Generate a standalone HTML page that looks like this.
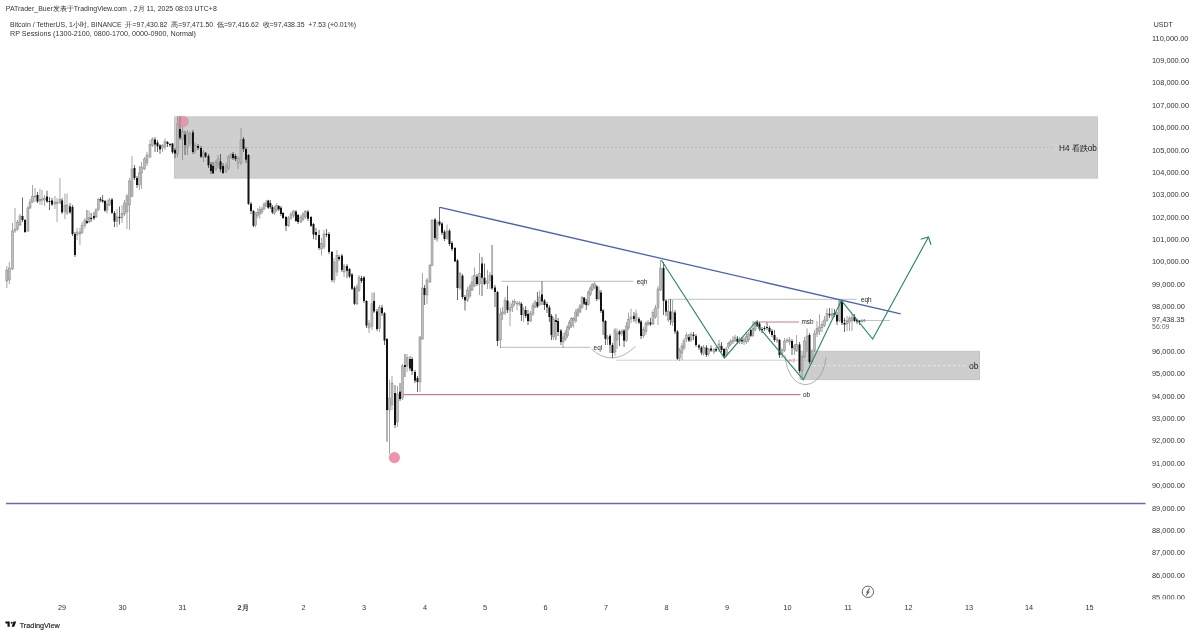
<!DOCTYPE html><html><head><meta charset="utf-8"><style>
html,body{margin:0;padding:0;background:#fff;width:1200px;height:635px;overflow:hidden}
svg{position:absolute;left:0;top:0;font-family:"Liberation Sans",sans-serif;will-change:transform}
</style></head><body>
<svg width="1200" height="635" viewBox="0 0 1200 635">
<rect x="174.5" y="116.9" width="923" height="61.2" fill="#cfcfcf" stroke="#c6c6c6" stroke-width="1"/>
<rect x="800" y="351.3" width="179.5" height="28.3" fill="#cdcdcd" stroke="#c4c4c4" stroke-width="1"/>
<line x1="179" y1="147.3" x2="1054" y2="147.3" stroke="#ababab" stroke-width="0.8" stroke-dasharray="1.6,2.4"/>
<line x1="813" y1="365.7" x2="966" y2="365.7" stroke="#f2f2f2" stroke-width="0.8" stroke-dasharray="2.5,2.5"/>
<line x1="6" y1="503.6" x2="1145.5" y2="503.6" stroke="#6a6aa6" stroke-width="1.5"/>
<line x1="402" y1="394.7" x2="800.5" y2="394.7" stroke="#c67d90" stroke-width="1.2"/>
<line x1="755.7" y1="322" x2="799" y2="322" stroke="#c67d90" stroke-width="1.2"/>
<line x1="501.5" y1="281.3" x2="633.2" y2="281.3" stroke="#9a9aa8" stroke-width="0.7"/>
<line x1="500" y1="347.3" x2="590.6" y2="347.3" stroke="#8fa0c8" stroke-width="0.7"/>
<line x1="616" y1="360.2" x2="810" y2="360.2" stroke="#b4b4bc" stroke-width="0.6"/>
<line x1="668.7" y1="299.3" x2="856.7" y2="299.3" stroke="#b0b0b6" stroke-width="0.8"/>
<line x1="839.7" y1="320.5" x2="889.8" y2="320.5" stroke="#9a9a9a" stroke-width="0.6"/>
<path d="M591.6,349.3 Q613,368 635.6,346.3" fill="none" stroke="#9090a0" stroke-width="0.7"/>
<path d="M785,355 C788,394 822,394 826,357" fill="none" stroke="#909098" stroke-width="0.7"/>
<line x1="6.80" y1="266.0" x2="6.80" y2="288.0" stroke="#808080" stroke-width="0.7"/>
<rect x="5.80" y="270.0" width="2.0" height="11.0" fill="#bcbcbc" stroke="#858585" stroke-width="0.5"/>
<line x1="9.30" y1="262.0" x2="9.30" y2="284.0" stroke="#808080" stroke-width="0.7"/>
<rect x="8.30" y="268.0" width="2.0" height="12.0" fill="#bcbcbc" stroke="#858585" stroke-width="0.5"/>
<line x1="12.50" y1="223.0" x2="12.50" y2="270.0" stroke="#808080" stroke-width="0.7"/>
<rect x="11.50" y="231.0" width="2.0" height="38.0" fill="#bcbcbc" stroke="#858585" stroke-width="0.5"/>
<line x1="15.00" y1="208.0" x2="15.00" y2="233.0" stroke="#808080" stroke-width="0.7"/>
<rect x="14.00" y="229.0" width="2.0" height="2.0" fill="#bcbcbc" stroke="#858585" stroke-width="0.5"/>
<line x1="17.50" y1="220.0" x2="17.50" y2="231.0" stroke="#808080" stroke-width="0.7"/>
<rect x="16.50" y="222.0" width="2.0" height="7.0" fill="#bcbcbc" stroke="#858585" stroke-width="0.5"/>
<line x1="20.00" y1="214.0" x2="20.00" y2="226.0" stroke="#808080" stroke-width="0.7"/>
<rect x="19.00" y="216.0" width="2.0" height="9.0" fill="#bcbcbc" stroke="#858585" stroke-width="0.5"/>
<line x1="22.50" y1="197.5" x2="22.50" y2="222.0" stroke="#2a2a2a" stroke-width="0.7"/>
<rect x="21.50" y="216.0" width="2.0" height="4.0" fill="#111"/>
<line x1="25.00" y1="219.0" x2="25.00" y2="233.0" stroke="#2a2a2a" stroke-width="0.7"/>
<rect x="24.00" y="220.0" width="2.0" height="12.0" fill="#111"/>
<line x1="27.95" y1="206.0" x2="27.95" y2="232.0" stroke="#808080" stroke-width="0.7"/>
<rect x="26.95" y="208.0" width="2.0" height="23.0" fill="#bcbcbc" stroke="#858585" stroke-width="0.5"/>
<line x1="30.05" y1="198.5" x2="30.05" y2="209.0" stroke="#808080" stroke-width="0.7"/>
<rect x="29.05" y="202.0" width="2.0" height="6.0" fill="#bcbcbc" stroke="#858585" stroke-width="0.5"/>
<line x1="32.50" y1="185.0" x2="32.50" y2="203.0" stroke="#808080" stroke-width="0.7"/>
<rect x="31.50" y="196.5" width="2.0" height="5.5" fill="#bcbcbc" stroke="#858585" stroke-width="0.5"/>
<line x1="35.00" y1="188.0" x2="35.00" y2="202.0" stroke="#808080" stroke-width="0.7"/>
<rect x="34.00" y="196.0" width="2.0" height="1.0" fill="#bcbcbc" stroke="#858585" stroke-width="0.5"/>
<line x1="37.50" y1="192.0" x2="37.50" y2="203.0" stroke="#2a2a2a" stroke-width="0.7"/>
<rect x="36.50" y="195.0" width="2.0" height="6.5" fill="#111"/>
<line x1="39.95" y1="188.7" x2="39.95" y2="205.0" stroke="#808080" stroke-width="0.7"/>
<rect x="38.95" y="199.5" width="2.0" height="1.5" fill="#bcbcbc" stroke="#858585" stroke-width="0.5"/>
<line x1="42.05" y1="190.0" x2="42.05" y2="205.0" stroke="#808080" stroke-width="0.7"/>
<rect x="41.05" y="199.0" width="2.0" height="1.0" fill="#bcbcbc" stroke="#858585" stroke-width="0.5"/>
<line x1="44.50" y1="195.0" x2="44.50" y2="206.0" stroke="#808080" stroke-width="0.7"/>
<rect x="43.50" y="198.0" width="2.0" height="2.0" fill="#bcbcbc" stroke="#858585" stroke-width="0.5"/>
<line x1="47.00" y1="190.7" x2="47.00" y2="203.0" stroke="#2a2a2a" stroke-width="0.7"/>
<rect x="46.00" y="196.5" width="2.0" height="5.0" fill="#111"/>
<line x1="49.50" y1="197.0" x2="49.50" y2="210.0" stroke="#2a2a2a" stroke-width="0.7"/>
<rect x="48.50" y="201.0" width="2.0" height="1.0" fill="#111"/>
<line x1="52.00" y1="198.0" x2="52.00" y2="206.0" stroke="#2a2a2a" stroke-width="0.7"/>
<rect x="51.00" y="200.5" width="2.0" height="4.0" fill="#111"/>
<line x1="54.95" y1="196.0" x2="54.95" y2="209.0" stroke="#808080" stroke-width="0.7"/>
<rect x="53.95" y="202.0" width="2.0" height="2.0" fill="#bcbcbc" stroke="#858585" stroke-width="0.5"/>
<line x1="57.05" y1="198.0" x2="57.05" y2="222.0" stroke="#808080" stroke-width="0.7"/>
<rect x="56.05" y="202.5" width="2.0" height="1.0" fill="#bcbcbc" stroke="#858585" stroke-width="0.5"/>
<line x1="59.95" y1="178.0" x2="59.95" y2="204.0" stroke="#808080" stroke-width="0.7"/>
<rect x="58.95" y="199.5" width="2.0" height="3.5" fill="#bcbcbc" stroke="#858585" stroke-width="0.5"/>
<line x1="62.05" y1="198.0" x2="62.05" y2="214.0" stroke="#2a2a2a" stroke-width="0.7"/>
<rect x="61.05" y="200.5" width="2.0" height="11.8" fill="#111"/>
<line x1="64.95" y1="193.6" x2="64.95" y2="219.0" stroke="#808080" stroke-width="0.7"/>
<rect x="63.95" y="205.4" width="2.0" height="5.9" fill="#bcbcbc" stroke="#858585" stroke-width="0.5"/>
<line x1="67.05" y1="193.6" x2="67.05" y2="215.0" stroke="#808080" stroke-width="0.7"/>
<rect x="66.05" y="205.0" width="2.0" height="8.0" fill="#bcbcbc" stroke="#858585" stroke-width="0.5"/>
<line x1="70.00" y1="203.0" x2="70.00" y2="214.0" stroke="#2a2a2a" stroke-width="0.7"/>
<rect x="69.00" y="206.4" width="2.0" height="5.9" fill="#111"/>
<line x1="72.50" y1="205.0" x2="72.50" y2="236.0" stroke="#2a2a2a" stroke-width="0.7"/>
<rect x="71.50" y="207.0" width="2.0" height="27.0" fill="#111"/>
<line x1="74.95" y1="232.0" x2="74.95" y2="257.0" stroke="#2a2a2a" stroke-width="0.7"/>
<rect x="73.95" y="234.0" width="2.0" height="21.0" fill="#111"/>
<line x1="77.05" y1="228.0" x2="77.05" y2="240.0" stroke="#808080" stroke-width="0.7"/>
<rect x="76.05" y="232.0" width="2.0" height="3.0" fill="#bcbcbc" stroke="#858585" stroke-width="0.5"/>
<line x1="79.95" y1="228.0" x2="79.95" y2="245.0" stroke="#808080" stroke-width="0.7"/>
<rect x="78.95" y="232.0" width="2.0" height="2.0" fill="#bcbcbc" stroke="#858585" stroke-width="0.5"/>
<line x1="82.05" y1="222.0" x2="82.05" y2="234.0" stroke="#808080" stroke-width="0.7"/>
<rect x="81.05" y="225.5" width="2.0" height="7.0" fill="#bcbcbc" stroke="#858585" stroke-width="0.5"/>
<line x1="84.85" y1="218.0" x2="84.85" y2="228.6" stroke="#808080" stroke-width="0.7"/>
<rect x="83.85" y="220.7" width="2.0" height="4.8" fill="#bcbcbc" stroke="#858585" stroke-width="0.5"/>
<line x1="86.95" y1="210.0" x2="86.95" y2="224.0" stroke="#2a2a2a" stroke-width="0.7"/>
<rect x="85.95" y="221.0" width="2.0" height="2.0" fill="#111"/>
<line x1="89.05" y1="210.5" x2="89.05" y2="223.0" stroke="#808080" stroke-width="0.7"/>
<rect x="88.05" y="217.5" width="2.0" height="4.5" fill="#bcbcbc" stroke="#858585" stroke-width="0.5"/>
<line x1="91.15" y1="213.0" x2="91.15" y2="222.0" stroke="#2a2a2a" stroke-width="0.7"/>
<rect x="90.15" y="218.0" width="2.0" height="1.0" fill="#111"/>
<line x1="93.95" y1="212.0" x2="93.95" y2="220.0" stroke="#2a2a2a" stroke-width="0.7"/>
<rect x="92.95" y="216.0" width="2.0" height="2.3" fill="#111"/>
<line x1="96.05" y1="208.0" x2="96.05" y2="218.0" stroke="#808080" stroke-width="0.7"/>
<rect x="95.05" y="210.0" width="2.0" height="7.0" fill="#bcbcbc" stroke="#858585" stroke-width="0.5"/>
<line x1="98.40" y1="198.0" x2="98.40" y2="211.0" stroke="#808080" stroke-width="0.7"/>
<rect x="97.40" y="199.5" width="2.0" height="10.2" fill="#bcbcbc" stroke="#858585" stroke-width="0.5"/>
<line x1="100.50" y1="197.0" x2="100.50" y2="202.0" stroke="#2a2a2a" stroke-width="0.7"/>
<rect x="99.50" y="199.2" width="2.0" height="1.0" fill="#111"/>
<line x1="102.60" y1="195.0" x2="102.60" y2="203.0" stroke="#2a2a2a" stroke-width="0.7"/>
<rect x="101.60" y="200.0" width="2.0" height="1.5" fill="#111"/>
<line x1="104.95" y1="200.0" x2="104.95" y2="212.0" stroke="#2a2a2a" stroke-width="0.7"/>
<rect x="103.95" y="201.0" width="2.0" height="9.5" fill="#111"/>
<line x1="107.05" y1="199.5" x2="107.05" y2="213.6" stroke="#808080" stroke-width="0.7"/>
<rect x="106.05" y="204.0" width="2.0" height="6.0" fill="#bcbcbc" stroke="#858585" stroke-width="0.5"/>
<line x1="109.50" y1="198.0" x2="109.50" y2="206.0" stroke="#808080" stroke-width="0.7"/>
<rect x="108.50" y="200.0" width="2.0" height="5.0" fill="#bcbcbc" stroke="#858585" stroke-width="0.5"/>
<line x1="112.00" y1="198.0" x2="112.00" y2="214.0" stroke="#2a2a2a" stroke-width="0.7"/>
<rect x="111.00" y="199.5" width="2.0" height="13.3" fill="#111"/>
<line x1="114.50" y1="211.0" x2="114.50" y2="227.0" stroke="#2a2a2a" stroke-width="0.7"/>
<rect x="113.50" y="213.0" width="2.0" height="8.5" fill="#111"/>
<line x1="117.00" y1="209.0" x2="117.00" y2="227.0" stroke="#808080" stroke-width="0.7"/>
<rect x="116.00" y="216.8" width="2.0" height="4.7" fill="#bcbcbc" stroke="#858585" stroke-width="0.5"/>
<line x1="119.50" y1="206.5" x2="119.50" y2="224.6" stroke="#2a2a2a" stroke-width="0.7"/>
<rect x="118.50" y="217.0" width="2.0" height="1.0" fill="#111"/>
<line x1="122.00" y1="205.0" x2="122.00" y2="223.0" stroke="#808080" stroke-width="0.7"/>
<rect x="121.00" y="213.6" width="2.0" height="4.4" fill="#bcbcbc" stroke="#858585" stroke-width="0.5"/>
<line x1="124.50" y1="200.0" x2="124.50" y2="216.0" stroke="#808080" stroke-width="0.7"/>
<rect x="123.50" y="203.0" width="2.0" height="11.0" fill="#bcbcbc" stroke="#858585" stroke-width="0.5"/>
<line x1="127.00" y1="194.0" x2="127.00" y2="229.0" stroke="#808080" stroke-width="0.7"/>
<rect x="126.00" y="196.0" width="2.0" height="16.0" fill="#bcbcbc" stroke="#858585" stroke-width="0.5"/>
<line x1="129.50" y1="178.0" x2="129.50" y2="230.0" stroke="#808080" stroke-width="0.7"/>
<rect x="128.50" y="181.0" width="2.0" height="24.0" fill="#bcbcbc" stroke="#858585" stroke-width="0.5"/>
<line x1="132.00" y1="156.0" x2="132.00" y2="197.0" stroke="#808080" stroke-width="0.7"/>
<rect x="131.00" y="169.0" width="2.0" height="27.6" fill="#bcbcbc" stroke="#858585" stroke-width="0.5"/>
<line x1="134.50" y1="165.0" x2="134.50" y2="180.0" stroke="#2a2a2a" stroke-width="0.7"/>
<rect x="133.50" y="168.0" width="2.0" height="10.0" fill="#111"/>
<line x1="137.00" y1="176.0" x2="137.00" y2="188.0" stroke="#2a2a2a" stroke-width="0.7"/>
<rect x="136.00" y="178.0" width="2.0" height="7.0" fill="#111"/>
<line x1="139.45" y1="166.0" x2="139.45" y2="190.0" stroke="#808080" stroke-width="0.7"/>
<rect x="138.45" y="173.0" width="2.0" height="12.0" fill="#bcbcbc" stroke="#858585" stroke-width="0.5"/>
<line x1="141.55" y1="162.0" x2="141.55" y2="189.0" stroke="#808080" stroke-width="0.7"/>
<rect x="140.55" y="167.0" width="2.0" height="6.0" fill="#bcbcbc" stroke="#858585" stroke-width="0.5"/>
<line x1="144.50" y1="157.0" x2="144.50" y2="170.0" stroke="#808080" stroke-width="0.7"/>
<rect x="143.50" y="159.0" width="2.0" height="10.0" fill="#bcbcbc" stroke="#858585" stroke-width="0.5"/>
<line x1="147.00" y1="152.0" x2="147.00" y2="166.0" stroke="#808080" stroke-width="0.7"/>
<rect x="146.00" y="155.0" width="2.0" height="8.0" fill="#bcbcbc" stroke="#858585" stroke-width="0.5"/>
<line x1="150.00" y1="140.0" x2="150.00" y2="158.0" stroke="#808080" stroke-width="0.7"/>
<rect x="149.00" y="144.5" width="2.0" height="12.5" fill="#bcbcbc" stroke="#858585" stroke-width="0.5"/>
<line x1="152.50" y1="137.5" x2="152.50" y2="147.0" stroke="#808080" stroke-width="0.7"/>
<rect x="151.50" y="139.0" width="2.0" height="6.5" fill="#bcbcbc" stroke="#858585" stroke-width="0.5"/>
<line x1="155.00" y1="137.0" x2="155.00" y2="152.0" stroke="#2a2a2a" stroke-width="0.7"/>
<rect x="154.00" y="139.5" width="2.0" height="5.0" fill="#111"/>
<line x1="157.50" y1="140.0" x2="157.50" y2="152.0" stroke="#2a2a2a" stroke-width="0.7"/>
<rect x="156.50" y="142.5" width="2.0" height="3.9" fill="#111"/>
<line x1="160.00" y1="144.0" x2="160.00" y2="154.0" stroke="#2a2a2a" stroke-width="0.7"/>
<rect x="159.00" y="145.5" width="2.0" height="3.9" fill="#111"/>
<line x1="162.50" y1="144.0" x2="162.50" y2="152.0" stroke="#808080" stroke-width="0.7"/>
<rect x="161.50" y="145.5" width="2.0" height="2.5" fill="#bcbcbc" stroke="#858585" stroke-width="0.5"/>
<line x1="165.00" y1="138.5" x2="165.00" y2="150.0" stroke="#808080" stroke-width="0.7"/>
<rect x="164.00" y="141.5" width="2.0" height="5.5" fill="#bcbcbc" stroke="#858585" stroke-width="0.5"/>
<line x1="167.50" y1="141.0" x2="167.50" y2="147.0" stroke="#2a2a2a" stroke-width="0.7"/>
<rect x="166.50" y="142.0" width="2.0" height="2.0" fill="#111"/>
<line x1="170.00" y1="143.0" x2="170.00" y2="147.0" stroke="#2a2a2a" stroke-width="0.7"/>
<rect x="169.00" y="144.0" width="2.0" height="1.0" fill="#111"/>
<line x1="172.50" y1="143.0" x2="172.50" y2="154.0" stroke="#2a2a2a" stroke-width="0.7"/>
<rect x="171.50" y="143.5" width="2.0" height="8.8" fill="#111"/>
<line x1="175.00" y1="148.0" x2="175.00" y2="158.0" stroke="#2a2a2a" stroke-width="0.7"/>
<rect x="174.00" y="150.0" width="2.0" height="3.5" fill="#111"/>
<line x1="177.50" y1="116.0" x2="177.50" y2="157.0" stroke="#808080" stroke-width="0.7"/>
<rect x="176.50" y="124.0" width="2.0" height="29.5" fill="#bcbcbc" stroke="#858585" stroke-width="0.5"/>
<line x1="180.00" y1="116.0" x2="180.00" y2="140.0" stroke="#2a2a2a" stroke-width="0.7"/>
<rect x="179.00" y="129.0" width="2.0" height="8.8" fill="#111"/>
<line x1="182.50" y1="126.0" x2="182.50" y2="160.0" stroke="#808080" stroke-width="0.7"/>
<rect x="181.50" y="131.5" width="2.0" height="7.5" fill="#bcbcbc" stroke="#858585" stroke-width="0.5"/>
<line x1="185.00" y1="131.0" x2="185.00" y2="155.0" stroke="#2a2a2a" stroke-width="0.7"/>
<rect x="184.00" y="134.6" width="2.0" height="10.4" fill="#111"/>
<line x1="187.50" y1="130.0" x2="187.50" y2="155.0" stroke="#808080" stroke-width="0.7"/>
<rect x="186.50" y="133.0" width="2.0" height="14.0" fill="#bcbcbc" stroke="#858585" stroke-width="0.5"/>
<line x1="190.00" y1="131.5" x2="190.00" y2="146.0" stroke="#808080" stroke-width="0.7"/>
<rect x="189.00" y="134.0" width="2.0" height="9.0" fill="#bcbcbc" stroke="#858585" stroke-width="0.5"/>
<line x1="192.95" y1="130.0" x2="192.95" y2="154.0" stroke="#2a2a2a" stroke-width="0.7"/>
<rect x="191.95" y="132.3" width="2.0" height="19.7" fill="#111"/>
<line x1="195.05" y1="142.5" x2="195.05" y2="153.5" stroke="#808080" stroke-width="0.7"/>
<rect x="194.05" y="145.7" width="2.0" height="4.3" fill="#bcbcbc" stroke="#858585" stroke-width="0.5"/>
<line x1="198.00" y1="144.0" x2="198.00" y2="150.0" stroke="#2a2a2a" stroke-width="0.7"/>
<rect x="197.00" y="146.0" width="2.0" height="2.0" fill="#111"/>
<line x1="201.00" y1="146.0" x2="201.00" y2="158.0" stroke="#2a2a2a" stroke-width="0.7"/>
<rect x="200.00" y="148.0" width="2.0" height="8.7" fill="#111"/>
<line x1="203.45" y1="150.0" x2="203.45" y2="162.0" stroke="#808080" stroke-width="0.7"/>
<rect x="202.45" y="152.0" width="2.0" height="5.0" fill="#bcbcbc" stroke="#858585" stroke-width="0.5"/>
<line x1="205.55" y1="152.0" x2="205.55" y2="158.0" stroke="#2a2a2a" stroke-width="0.7"/>
<rect x="204.55" y="152.8" width="2.0" height="3.9" fill="#111"/>
<line x1="208.50" y1="154.0" x2="208.50" y2="168.0" stroke="#2a2a2a" stroke-width="0.7"/>
<rect x="207.50" y="156.0" width="2.0" height="9.4" fill="#111"/>
<line x1="210.95" y1="162.0" x2="210.95" y2="174.0" stroke="#2a2a2a" stroke-width="0.7"/>
<rect x="209.95" y="164.5" width="2.0" height="6.5" fill="#111"/>
<line x1="213.05" y1="162.0" x2="213.05" y2="174.0" stroke="#2a2a2a" stroke-width="0.7"/>
<rect x="212.05" y="166.0" width="2.0" height="7.2" fill="#111"/>
<line x1="215.95" y1="160.0" x2="215.95" y2="171.0" stroke="#808080" stroke-width="0.7"/>
<rect x="214.95" y="162.2" width="2.0" height="6.8" fill="#bcbcbc" stroke="#858585" stroke-width="0.5"/>
<line x1="218.05" y1="155.0" x2="218.05" y2="168.0" stroke="#808080" stroke-width="0.7"/>
<rect x="217.05" y="159.0" width="2.0" height="5.5" fill="#bcbcbc" stroke="#858585" stroke-width="0.5"/>
<line x1="220.50" y1="154.0" x2="220.50" y2="172.0" stroke="#2a2a2a" stroke-width="0.7"/>
<rect x="219.50" y="161.4" width="2.0" height="7.9" fill="#111"/>
<line x1="223.00" y1="163.0" x2="223.00" y2="174.0" stroke="#2a2a2a" stroke-width="0.7"/>
<rect x="222.00" y="166.0" width="2.0" height="7.0" fill="#111"/>
<line x1="226.00" y1="163.0" x2="226.00" y2="173.0" stroke="#808080" stroke-width="0.7"/>
<rect x="225.00" y="166.0" width="2.0" height="5.6" fill="#bcbcbc" stroke="#858585" stroke-width="0.5"/>
<line x1="228.50" y1="155.0" x2="228.50" y2="170.0" stroke="#808080" stroke-width="0.7"/>
<rect x="227.50" y="157.0" width="2.0" height="11.0" fill="#bcbcbc" stroke="#858585" stroke-width="0.5"/>
<line x1="230.95" y1="153.0" x2="230.95" y2="159.0" stroke="#808080" stroke-width="0.7"/>
<rect x="229.95" y="155.0" width="2.0" height="2.0" fill="#bcbcbc" stroke="#858585" stroke-width="0.5"/>
<line x1="233.05" y1="152.0" x2="233.05" y2="160.0" stroke="#2a2a2a" stroke-width="0.7"/>
<rect x="232.05" y="154.0" width="2.0" height="4.0" fill="#111"/>
<line x1="235.50" y1="154.0" x2="235.50" y2="161.0" stroke="#2a2a2a" stroke-width="0.7"/>
<rect x="234.50" y="156.0" width="2.0" height="3.0" fill="#111"/>
<line x1="238.00" y1="156.0" x2="238.00" y2="169.0" stroke="#808080" stroke-width="0.7"/>
<rect x="237.00" y="158.3" width="2.0" height="4.7" fill="#bcbcbc" stroke="#858585" stroke-width="0.5"/>
<line x1="241.00" y1="128.3" x2="241.00" y2="165.0" stroke="#808080" stroke-width="0.7"/>
<rect x="240.00" y="140.0" width="2.0" height="23.0" fill="#bcbcbc" stroke="#858585" stroke-width="0.5"/>
<line x1="243.50" y1="137.0" x2="243.50" y2="152.0" stroke="#2a2a2a" stroke-width="0.7"/>
<rect x="242.50" y="139.0" width="2.0" height="10.0" fill="#111"/>
<line x1="246.00" y1="147.0" x2="246.00" y2="163.0" stroke="#2a2a2a" stroke-width="0.7"/>
<rect x="245.00" y="149.0" width="2.0" height="10.7" fill="#111"/>
<line x1="248.50" y1="154.0" x2="248.50" y2="205.0" stroke="#2a2a2a" stroke-width="0.7"/>
<rect x="247.50" y="155.0" width="2.0" height="48.8" fill="#111"/>
<line x1="251.00" y1="202.0" x2="251.00" y2="214.0" stroke="#2a2a2a" stroke-width="0.7"/>
<rect x="250.00" y="203.8" width="2.0" height="7.2" fill="#111"/>
<line x1="253.50" y1="210.0" x2="253.50" y2="227.0" stroke="#2a2a2a" stroke-width="0.7"/>
<rect x="252.50" y="211.0" width="2.0" height="14.8" fill="#111"/>
<line x1="255.62" y1="212.0" x2="255.62" y2="227.4" stroke="#808080" stroke-width="0.7"/>
<rect x="254.62" y="214.0" width="2.0" height="11.0" fill="#bcbcbc" stroke="#858585" stroke-width="0.5"/>
<line x1="257.72" y1="208.0" x2="257.72" y2="218.0" stroke="#808080" stroke-width="0.7"/>
<rect x="256.72" y="212.4" width="2.0" height="3.2" fill="#bcbcbc" stroke="#858585" stroke-width="0.5"/>
<line x1="259.82" y1="206.0" x2="259.82" y2="218.7" stroke="#808080" stroke-width="0.7"/>
<rect x="258.82" y="209.3" width="2.0" height="4.7" fill="#bcbcbc" stroke="#858585" stroke-width="0.5"/>
<line x1="261.92" y1="207.0" x2="261.92" y2="214.0" stroke="#808080" stroke-width="0.7"/>
<rect x="260.92" y="209.0" width="2.0" height="3.0" fill="#bcbcbc" stroke="#858585" stroke-width="0.5"/>
<line x1="264.02" y1="202.0" x2="264.02" y2="210.0" stroke="#808080" stroke-width="0.7"/>
<rect x="263.02" y="204.6" width="2.0" height="4.4" fill="#bcbcbc" stroke="#858585" stroke-width="0.5"/>
<line x1="266.12" y1="200.0" x2="266.12" y2="207.0" stroke="#808080" stroke-width="0.7"/>
<rect x="265.12" y="203.0" width="2.0" height="3.0" fill="#bcbcbc" stroke="#858585" stroke-width="0.5"/>
<line x1="268.22" y1="199.8" x2="268.22" y2="209.0" stroke="#2a2a2a" stroke-width="0.7"/>
<rect x="267.22" y="200.6" width="2.0" height="7.1" fill="#111"/>
<line x1="270.32" y1="200.0" x2="270.32" y2="209.0" stroke="#2a2a2a" stroke-width="0.7"/>
<rect x="269.32" y="203.0" width="2.0" height="4.0" fill="#111"/>
<line x1="272.42" y1="205.0" x2="272.42" y2="214.0" stroke="#2a2a2a" stroke-width="0.7"/>
<rect x="271.42" y="207.0" width="2.0" height="5.4" fill="#111"/>
<line x1="274.52" y1="206.0" x2="274.52" y2="215.0" stroke="#808080" stroke-width="0.7"/>
<rect x="273.52" y="208.5" width="2.0" height="4.5" fill="#bcbcbc" stroke="#858585" stroke-width="0.5"/>
<line x1="276.62" y1="203.0" x2="276.62" y2="212.0" stroke="#808080" stroke-width="0.7"/>
<rect x="275.62" y="205.4" width="2.0" height="4.6" fill="#bcbcbc" stroke="#858585" stroke-width="0.5"/>
<line x1="278.72" y1="205.0" x2="278.72" y2="211.0" stroke="#2a2a2a" stroke-width="0.7"/>
<rect x="277.72" y="206.0" width="2.0" height="3.3" fill="#111"/>
<line x1="280.95" y1="206.0" x2="280.95" y2="216.0" stroke="#2a2a2a" stroke-width="0.7"/>
<rect x="279.95" y="207.7" width="2.0" height="6.3" fill="#111"/>
<line x1="283.05" y1="212.0" x2="283.05" y2="219.0" stroke="#2a2a2a" stroke-width="0.7"/>
<rect x="282.05" y="213.0" width="2.0" height="5.0" fill="#111"/>
<line x1="286.00" y1="216.0" x2="286.00" y2="231.0" stroke="#2a2a2a" stroke-width="0.7"/>
<rect x="285.00" y="217.0" width="2.0" height="8.8" fill="#111"/>
<line x1="288.50" y1="216.0" x2="288.50" y2="227.0" stroke="#808080" stroke-width="0.7"/>
<rect x="287.50" y="218.0" width="2.0" height="7.8" fill="#bcbcbc" stroke="#858585" stroke-width="0.5"/>
<line x1="291.00" y1="212.0" x2="291.00" y2="220.0" stroke="#808080" stroke-width="0.7"/>
<rect x="290.00" y="214.0" width="2.0" height="4.0" fill="#bcbcbc" stroke="#858585" stroke-width="0.5"/>
<line x1="293.50" y1="210.0" x2="293.50" y2="218.0" stroke="#808080" stroke-width="0.7"/>
<rect x="292.50" y="211.0" width="2.0" height="4.6" fill="#bcbcbc" stroke="#858585" stroke-width="0.5"/>
<line x1="295.95" y1="210.0" x2="295.95" y2="222.0" stroke="#2a2a2a" stroke-width="0.7"/>
<rect x="294.95" y="211.6" width="2.0" height="9.4" fill="#111"/>
<line x1="298.05" y1="214.0" x2="298.05" y2="224.0" stroke="#2a2a2a" stroke-width="0.7"/>
<rect x="297.05" y="215.0" width="2.0" height="7.0" fill="#111"/>
<line x1="300.95" y1="215.0" x2="300.95" y2="223.0" stroke="#808080" stroke-width="0.7"/>
<rect x="299.95" y="217.0" width="2.0" height="5.0" fill="#bcbcbc" stroke="#858585" stroke-width="0.5"/>
<line x1="303.05" y1="212.0" x2="303.05" y2="221.0" stroke="#808080" stroke-width="0.7"/>
<rect x="302.05" y="214.0" width="2.0" height="5.5" fill="#bcbcbc" stroke="#858585" stroke-width="0.5"/>
<line x1="305.50" y1="210.0" x2="305.50" y2="219.0" stroke="#808080" stroke-width="0.7"/>
<rect x="304.50" y="211.6" width="2.0" height="5.4" fill="#bcbcbc" stroke="#858585" stroke-width="0.5"/>
<line x1="308.00" y1="210.0" x2="308.00" y2="221.0" stroke="#2a2a2a" stroke-width="0.7"/>
<rect x="307.00" y="211.6" width="2.0" height="7.1" fill="#111"/>
<line x1="311.00" y1="216.0" x2="311.00" y2="227.0" stroke="#2a2a2a" stroke-width="0.7"/>
<rect x="310.00" y="217.0" width="2.0" height="8.8" fill="#111"/>
<line x1="313.50" y1="223.0" x2="313.50" y2="239.0" stroke="#2a2a2a" stroke-width="0.7"/>
<rect x="312.50" y="224.0" width="2.0" height="10.5" fill="#111"/>
<line x1="316.00" y1="228.0" x2="316.00" y2="240.0" stroke="#2a2a2a" stroke-width="0.7"/>
<rect x="315.00" y="232.0" width="2.0" height="3.0" fill="#111"/>
<line x1="319.00" y1="230.0" x2="319.00" y2="250.0" stroke="#2a2a2a" stroke-width="0.7"/>
<rect x="318.00" y="235.0" width="2.0" height="13.0" fill="#111"/>
<line x1="321.50" y1="238.0" x2="321.50" y2="255.6" stroke="#808080" stroke-width="0.7"/>
<rect x="320.50" y="243.4" width="2.0" height="5.6" fill="#bcbcbc" stroke="#858585" stroke-width="0.5"/>
<line x1="324.00" y1="230.0" x2="324.00" y2="249.0" stroke="#808080" stroke-width="0.7"/>
<rect x="323.00" y="234.0" width="2.0" height="13.0" fill="#bcbcbc" stroke="#858585" stroke-width="0.5"/>
<line x1="326.50" y1="229.0" x2="326.50" y2="237.0" stroke="#2a2a2a" stroke-width="0.7"/>
<rect x="325.50" y="233.8" width="2.0" height="1.0" fill="#111"/>
<line x1="329.00" y1="232.0" x2="329.00" y2="254.0" stroke="#2a2a2a" stroke-width="0.7"/>
<rect x="328.00" y="234.0" width="2.0" height="18.0" fill="#111"/>
<line x1="331.95" y1="251.0" x2="331.95" y2="282.0" stroke="#2a2a2a" stroke-width="0.7"/>
<rect x="330.95" y="252.0" width="2.0" height="28.0" fill="#111"/>
<line x1="334.05" y1="258.0" x2="334.05" y2="283.0" stroke="#808080" stroke-width="0.7"/>
<rect x="333.05" y="262.0" width="2.0" height="18.0" fill="#bcbcbc" stroke="#858585" stroke-width="0.5"/>
<line x1="336.95" y1="250.0" x2="336.95" y2="276.0" stroke="#808080" stroke-width="0.7"/>
<rect x="335.95" y="255.6" width="2.0" height="16.4" fill="#bcbcbc" stroke="#858585" stroke-width="0.5"/>
<line x1="339.05" y1="255.0" x2="339.05" y2="261.0" stroke="#2a2a2a" stroke-width="0.7"/>
<rect x="338.05" y="257.0" width="2.0" height="2.0" fill="#111"/>
<line x1="341.95" y1="254.0" x2="341.95" y2="272.0" stroke="#2a2a2a" stroke-width="0.7"/>
<rect x="340.95" y="255.6" width="2.0" height="14.4" fill="#111"/>
<line x1="344.05" y1="264.0" x2="344.05" y2="277.0" stroke="#808080" stroke-width="0.7"/>
<rect x="343.05" y="266.0" width="2.0" height="6.0" fill="#bcbcbc" stroke="#858585" stroke-width="0.5"/>
<line x1="347.00" y1="264.0" x2="347.00" y2="278.0" stroke="#2a2a2a" stroke-width="0.7"/>
<rect x="346.00" y="266.0" width="2.0" height="4.8" fill="#111"/>
<line x1="349.50" y1="268.0" x2="349.50" y2="278.0" stroke="#2a2a2a" stroke-width="0.7"/>
<rect x="348.50" y="269.0" width="2.0" height="7.4" fill="#111"/>
<line x1="352.00" y1="273.0" x2="352.00" y2="290.0" stroke="#2a2a2a" stroke-width="0.7"/>
<rect x="351.00" y="274.5" width="2.0" height="14.2" fill="#111"/>
<line x1="354.50" y1="286.0" x2="354.50" y2="305.0" stroke="#2a2a2a" stroke-width="0.7"/>
<rect x="353.50" y="287.8" width="2.0" height="16.0" fill="#111"/>
<line x1="356.95" y1="284.0" x2="356.95" y2="305.0" stroke="#808080" stroke-width="0.7"/>
<rect x="355.95" y="286.8" width="2.0" height="17.0" fill="#bcbcbc" stroke="#858585" stroke-width="0.5"/>
<line x1="359.05" y1="275.0" x2="359.05" y2="292.0" stroke="#808080" stroke-width="0.7"/>
<rect x="358.05" y="277.4" width="2.0" height="13.3" fill="#bcbcbc" stroke="#858585" stroke-width="0.5"/>
<line x1="361.50" y1="276.0" x2="361.50" y2="283.0" stroke="#2a2a2a" stroke-width="0.7"/>
<rect x="360.50" y="278.0" width="2.0" height="3.0" fill="#111"/>
<line x1="364.00" y1="276.0" x2="364.00" y2="303.0" stroke="#2a2a2a" stroke-width="0.7"/>
<rect x="363.00" y="277.4" width="2.0" height="23.6" fill="#111"/>
<line x1="366.50" y1="300.0" x2="366.50" y2="328.0" stroke="#2a2a2a" stroke-width="0.7"/>
<rect x="365.50" y="301.0" width="2.0" height="24.6" fill="#111"/>
<line x1="369.00" y1="320.0" x2="369.00" y2="333.0" stroke="#808080" stroke-width="0.7"/>
<rect x="368.00" y="323.7" width="2.0" height="4.3" fill="#bcbcbc" stroke="#858585" stroke-width="0.5"/>
<line x1="371.95" y1="292.5" x2="371.95" y2="330.0" stroke="#808080" stroke-width="0.7"/>
<rect x="370.95" y="303.8" width="2.0" height="22.7" fill="#bcbcbc" stroke="#858585" stroke-width="0.5"/>
<line x1="374.05" y1="292.5" x2="374.05" y2="313.0" stroke="#2a2a2a" stroke-width="0.7"/>
<rect x="373.05" y="301.0" width="2.0" height="10.4" fill="#111"/>
<line x1="377.00" y1="309.0" x2="377.00" y2="331.0" stroke="#2a2a2a" stroke-width="0.7"/>
<rect x="376.00" y="311.4" width="2.0" height="17.6" fill="#111"/>
<line x1="379.50" y1="305.0" x2="379.50" y2="332.0" stroke="#808080" stroke-width="0.7"/>
<rect x="378.50" y="307.6" width="2.0" height="20.8" fill="#bcbcbc" stroke="#858585" stroke-width="0.5"/>
<line x1="382.00" y1="305.0" x2="382.00" y2="316.0" stroke="#2a2a2a" stroke-width="0.7"/>
<rect x="381.00" y="307.6" width="2.0" height="5.7" fill="#111"/>
<line x1="384.50" y1="312.0" x2="384.50" y2="345.0" stroke="#2a2a2a" stroke-width="0.7"/>
<rect x="383.50" y="313.3" width="2.0" height="27.2" fill="#111"/>
<line x1="387.00" y1="338.0" x2="387.00" y2="441.7" stroke="#2a2a2a" stroke-width="0.7"/>
<rect x="386.00" y="339.0" width="2.0" height="71.0" fill="#111"/>
<line x1="389.50" y1="380.0" x2="389.50" y2="454.0" stroke="#808080" stroke-width="0.7"/>
<rect x="388.50" y="398.0" width="2.0" height="12.0" fill="#bcbcbc" stroke="#858585" stroke-width="0.5"/>
<line x1="392.00" y1="376.0" x2="392.00" y2="410.0" stroke="#808080" stroke-width="0.7"/>
<rect x="391.00" y="383.0" width="2.0" height="22.0" fill="#bcbcbc" stroke="#858585" stroke-width="0.5"/>
<line x1="395.00" y1="385.0" x2="395.00" y2="428.0" stroke="#2a2a2a" stroke-width="0.7"/>
<rect x="394.00" y="393.0" width="2.0" height="32.0" fill="#111"/>
<line x1="397.50" y1="386.0" x2="397.50" y2="427.0" stroke="#808080" stroke-width="0.7"/>
<rect x="396.50" y="394.0" width="2.0" height="28.0" fill="#bcbcbc" stroke="#858585" stroke-width="0.5"/>
<line x1="400.00" y1="383.0" x2="400.00" y2="401.0" stroke="#2a2a2a" stroke-width="0.7"/>
<rect x="399.00" y="391.7" width="2.0" height="7.3" fill="#111"/>
<line x1="402.50" y1="364.0" x2="402.50" y2="400.0" stroke="#808080" stroke-width="0.7"/>
<rect x="401.50" y="366.0" width="2.0" height="32.0" fill="#bcbcbc" stroke="#858585" stroke-width="0.5"/>
<line x1="404.95" y1="354.0" x2="404.95" y2="377.0" stroke="#2a2a2a" stroke-width="0.7"/>
<rect x="403.95" y="365.0" width="2.0" height="2.0" fill="#111"/>
<line x1="407.05" y1="354.0" x2="407.05" y2="372.0" stroke="#808080" stroke-width="0.7"/>
<rect x="406.05" y="357.6" width="2.0" height="8.4" fill="#bcbcbc" stroke="#858585" stroke-width="0.5"/>
<line x1="409.95" y1="356.0" x2="409.95" y2="371.0" stroke="#2a2a2a" stroke-width="0.7"/>
<rect x="408.95" y="359.0" width="2.0" height="9.5" fill="#111"/>
<line x1="412.05" y1="357.0" x2="412.05" y2="375.0" stroke="#2a2a2a" stroke-width="0.7"/>
<rect x="411.05" y="359.0" width="2.0" height="12.0" fill="#111"/>
<line x1="415.00" y1="370.0" x2="415.00" y2="383.0" stroke="#2a2a2a" stroke-width="0.7"/>
<rect x="414.00" y="372.0" width="2.0" height="8.7" fill="#111"/>
<line x1="417.50" y1="376.0" x2="417.50" y2="392.0" stroke="#2a2a2a" stroke-width="0.7"/>
<rect x="416.50" y="378.0" width="2.0" height="4.0" fill="#111"/>
<line x1="420.00" y1="336.0" x2="420.00" y2="392.0" stroke="#808080" stroke-width="0.7"/>
<rect x="419.00" y="337.0" width="2.0" height="45.0" fill="#bcbcbc" stroke="#858585" stroke-width="0.5"/>
<line x1="422.45" y1="273.0" x2="422.45" y2="340.0" stroke="#808080" stroke-width="0.7"/>
<rect x="421.45" y="288.0" width="2.0" height="51.0" fill="#bcbcbc" stroke="#858585" stroke-width="0.5"/>
<line x1="424.55" y1="285.0" x2="424.55" y2="305.0" stroke="#2a2a2a" stroke-width="0.7"/>
<rect x="423.55" y="288.0" width="2.0" height="7.0" fill="#111"/>
<line x1="427.00" y1="278.0" x2="427.00" y2="304.0" stroke="#808080" stroke-width="0.7"/>
<rect x="426.00" y="280.0" width="2.0" height="15.0" fill="#bcbcbc" stroke="#858585" stroke-width="0.5"/>
<line x1="429.95" y1="264.0" x2="429.95" y2="283.0" stroke="#808080" stroke-width="0.7"/>
<rect x="428.95" y="265.5" width="2.0" height="16.5" fill="#bcbcbc" stroke="#858585" stroke-width="0.5"/>
<line x1="432.05" y1="219.0" x2="432.05" y2="266.0" stroke="#808080" stroke-width="0.7"/>
<rect x="431.05" y="220.5" width="2.0" height="45.0" fill="#bcbcbc" stroke="#858585" stroke-width="0.5"/>
<line x1="434.95" y1="218.0" x2="434.95" y2="240.0" stroke="#2a2a2a" stroke-width="0.7"/>
<rect x="433.95" y="219.5" width="2.0" height="18.5" fill="#111"/>
<line x1="437.05" y1="220.0" x2="437.05" y2="242.0" stroke="#808080" stroke-width="0.7"/>
<rect x="436.05" y="222.5" width="2.0" height="16.5" fill="#bcbcbc" stroke="#858585" stroke-width="0.5"/>
<line x1="439.50" y1="207.0" x2="439.50" y2="226.0" stroke="#2a2a2a" stroke-width="0.7"/>
<rect x="438.50" y="221.5" width="2.0" height="3.0" fill="#111"/>
<line x1="442.00" y1="222.0" x2="442.00" y2="235.0" stroke="#2a2a2a" stroke-width="0.7"/>
<rect x="441.00" y="223.5" width="2.0" height="9.3" fill="#111"/>
<line x1="444.50" y1="230.0" x2="444.50" y2="241.0" stroke="#2a2a2a" stroke-width="0.7"/>
<rect x="443.50" y="231.7" width="2.0" height="7.3" fill="#111"/>
<line x1="447.00" y1="224.5" x2="447.00" y2="240.0" stroke="#808080" stroke-width="0.7"/>
<rect x="446.00" y="231.0" width="2.0" height="7.0" fill="#bcbcbc" stroke="#858585" stroke-width="0.5"/>
<line x1="449.50" y1="229.0" x2="449.50" y2="246.0" stroke="#2a2a2a" stroke-width="0.7"/>
<rect x="448.50" y="230.7" width="2.0" height="13.3" fill="#111"/>
<line x1="452.00" y1="241.0" x2="452.00" y2="251.0" stroke="#2a2a2a" stroke-width="0.7"/>
<rect x="451.00" y="243.0" width="2.0" height="6.0" fill="#111"/>
<line x1="455.00" y1="247.0" x2="455.00" y2="262.0" stroke="#2a2a2a" stroke-width="0.7"/>
<rect x="454.00" y="248.0" width="2.0" height="13.4" fill="#111"/>
<line x1="457.50" y1="259.0" x2="457.50" y2="300.0" stroke="#2a2a2a" stroke-width="0.7"/>
<rect x="456.50" y="260.4" width="2.0" height="27.6" fill="#111"/>
<line x1="460.00" y1="272.0" x2="460.00" y2="290.0" stroke="#808080" stroke-width="0.7"/>
<rect x="459.00" y="273.7" width="2.0" height="14.3" fill="#bcbcbc" stroke="#858585" stroke-width="0.5"/>
<line x1="462.50" y1="274.0" x2="462.50" y2="299.0" stroke="#2a2a2a" stroke-width="0.7"/>
<rect x="461.50" y="275.7" width="2.0" height="21.3" fill="#111"/>
<line x1="465.00" y1="295.0" x2="465.00" y2="310.5" stroke="#2a2a2a" stroke-width="0.7"/>
<rect x="464.00" y="297.0" width="2.0" height="3.3" fill="#111"/>
<line x1="467.50" y1="287.0" x2="467.50" y2="302.0" stroke="#808080" stroke-width="0.7"/>
<rect x="466.50" y="290.0" width="2.0" height="10.3" fill="#bcbcbc" stroke="#858585" stroke-width="0.5"/>
<line x1="469.95" y1="284.0" x2="469.95" y2="298.0" stroke="#808080" stroke-width="0.7"/>
<rect x="468.95" y="286.0" width="2.0" height="10.0" fill="#bcbcbc" stroke="#858585" stroke-width="0.5"/>
<line x1="472.05" y1="275.7" x2="472.05" y2="291.0" stroke="#808080" stroke-width="0.7"/>
<rect x="471.05" y="282.0" width="2.0" height="8.0" fill="#bcbcbc" stroke="#858585" stroke-width="0.5"/>
<line x1="474.50" y1="267.5" x2="474.50" y2="287.0" stroke="#808080" stroke-width="0.7"/>
<rect x="473.50" y="275.7" width="2.0" height="10.3" fill="#bcbcbc" stroke="#858585" stroke-width="0.5"/>
<line x1="477.00" y1="274.0" x2="477.00" y2="286.0" stroke="#2a2a2a" stroke-width="0.7"/>
<rect x="476.00" y="276.7" width="2.0" height="7.3" fill="#111"/>
<line x1="479.50" y1="253.0" x2="479.50" y2="295.0" stroke="#808080" stroke-width="0.7"/>
<rect x="478.50" y="273.7" width="2.0" height="10.3" fill="#bcbcbc" stroke="#858585" stroke-width="0.5"/>
<line x1="482.00" y1="257.0" x2="482.00" y2="296.0" stroke="#2a2a2a" stroke-width="0.7"/>
<rect x="481.00" y="263.5" width="2.0" height="14.3" fill="#111"/>
<line x1="484.50" y1="263.5" x2="484.50" y2="285.0" stroke="#2a2a2a" stroke-width="0.7"/>
<rect x="483.50" y="277.8" width="2.0" height="6.2" fill="#111"/>
<line x1="487.50" y1="270.0" x2="487.50" y2="289.0" stroke="#808080" stroke-width="0.7"/>
<rect x="486.50" y="281.0" width="2.0" height="2.5" fill="#bcbcbc" stroke="#858585" stroke-width="0.5"/>
<line x1="489.95" y1="272.0" x2="489.95" y2="289.0" stroke="#808080" stroke-width="0.7"/>
<rect x="488.95" y="275.0" width="2.0" height="5.7" fill="#bcbcbc" stroke="#858585" stroke-width="0.5"/>
<line x1="492.05" y1="245.0" x2="492.05" y2="290.0" stroke="#2a2a2a" stroke-width="0.7"/>
<rect x="491.05" y="275.3" width="2.0" height="13.0" fill="#111"/>
<line x1="495.00" y1="285.0" x2="495.00" y2="307.0" stroke="#2a2a2a" stroke-width="0.7"/>
<rect x="494.00" y="287.5" width="2.0" height="4.5" fill="#111"/>
<line x1="497.50" y1="291.0" x2="497.50" y2="346.0" stroke="#2a2a2a" stroke-width="0.7"/>
<rect x="496.50" y="292.0" width="2.0" height="49.0" fill="#111"/>
<line x1="500.45" y1="308.0" x2="500.45" y2="348.0" stroke="#808080" stroke-width="0.7"/>
<rect x="499.45" y="314.0" width="2.0" height="26.0" fill="#bcbcbc" stroke="#858585" stroke-width="0.5"/>
<line x1="502.55" y1="307.0" x2="502.55" y2="320.0" stroke="#808080" stroke-width="0.7"/>
<rect x="501.55" y="312.0" width="2.0" height="2.0" fill="#bcbcbc" stroke="#858585" stroke-width="0.5"/>
<line x1="505.00" y1="297.0" x2="505.00" y2="315.0" stroke="#808080" stroke-width="0.7"/>
<rect x="504.00" y="300.5" width="2.0" height="12.5" fill="#bcbcbc" stroke="#858585" stroke-width="0.5"/>
<line x1="507.50" y1="285.7" x2="507.50" y2="313.0" stroke="#2a2a2a" stroke-width="0.7"/>
<rect x="506.50" y="300.5" width="2.0" height="9.5" fill="#111"/>
<line x1="510.00" y1="302.0" x2="510.00" y2="326.4" stroke="#808080" stroke-width="0.7"/>
<rect x="509.00" y="307.4" width="2.0" height="3.6" fill="#bcbcbc" stroke="#858585" stroke-width="0.5"/>
<line x1="512.45" y1="300.0" x2="512.45" y2="312.0" stroke="#808080" stroke-width="0.7"/>
<rect x="511.45" y="304.0" width="2.0" height="3.6" fill="#bcbcbc" stroke="#858585" stroke-width="0.5"/>
<line x1="514.55" y1="299.0" x2="514.55" y2="306.0" stroke="#808080" stroke-width="0.7"/>
<rect x="513.55" y="301.3" width="2.0" height="1.7" fill="#bcbcbc" stroke="#858585" stroke-width="0.5"/>
<line x1="517.00" y1="301.0" x2="517.00" y2="310.0" stroke="#808080" stroke-width="0.7"/>
<rect x="516.00" y="303.0" width="2.0" height="1.0" fill="#bcbcbc" stroke="#858585" stroke-width="0.5"/>
<line x1="519.35" y1="301.0" x2="519.35" y2="306.0" stroke="#808080" stroke-width="0.7"/>
<rect x="518.35" y="303.0" width="2.0" height="1.0" fill="#bcbcbc" stroke="#858585" stroke-width="0.5"/>
<line x1="521.45" y1="302.0" x2="521.45" y2="321.0" stroke="#2a2a2a" stroke-width="0.7"/>
<rect x="520.45" y="304.0" width="2.0" height="11.0" fill="#111"/>
<line x1="523.55" y1="307.0" x2="523.55" y2="322.0" stroke="#808080" stroke-width="0.7"/>
<rect x="522.55" y="310.0" width="2.0" height="4.0" fill="#bcbcbc" stroke="#858585" stroke-width="0.5"/>
<line x1="525.65" y1="306.0" x2="525.65" y2="318.0" stroke="#2a2a2a" stroke-width="0.7"/>
<rect x="524.65" y="310.0" width="2.0" height="6.0" fill="#111"/>
<line x1="528.00" y1="310.0" x2="528.00" y2="325.0" stroke="#2a2a2a" stroke-width="0.7"/>
<rect x="527.00" y="314.0" width="2.0" height="7.0" fill="#111"/>
<line x1="530.50" y1="311.0" x2="530.50" y2="322.0" stroke="#808080" stroke-width="0.7"/>
<rect x="529.50" y="313.5" width="2.0" height="7.5" fill="#bcbcbc" stroke="#858585" stroke-width="0.5"/>
<line x1="532.95" y1="303.0" x2="532.95" y2="316.0" stroke="#808080" stroke-width="0.7"/>
<rect x="531.95" y="305.7" width="2.0" height="8.3" fill="#bcbcbc" stroke="#858585" stroke-width="0.5"/>
<line x1="535.05" y1="300.0" x2="535.05" y2="308.0" stroke="#808080" stroke-width="0.7"/>
<rect x="534.05" y="302.0" width="2.0" height="5.4" fill="#bcbcbc" stroke="#858585" stroke-width="0.5"/>
<line x1="537.45" y1="292.0" x2="537.45" y2="308.0" stroke="#2a2a2a" stroke-width="0.7"/>
<rect x="536.45" y="302.0" width="2.0" height="4.5" fill="#111"/>
<line x1="539.55" y1="290.7" x2="539.55" y2="306.0" stroke="#808080" stroke-width="0.7"/>
<rect x="538.55" y="297.0" width="2.0" height="7.7" fill="#bcbcbc" stroke="#858585" stroke-width="0.5"/>
<line x1="542.00" y1="281.4" x2="542.00" y2="305.0" stroke="#2a2a2a" stroke-width="0.7"/>
<rect x="541.00" y="294.4" width="2.0" height="6.9" fill="#111"/>
<line x1="544.50" y1="299.0" x2="544.50" y2="310.0" stroke="#2a2a2a" stroke-width="0.7"/>
<rect x="543.50" y="300.5" width="2.0" height="4.5" fill="#111"/>
<line x1="547.00" y1="302.0" x2="547.00" y2="313.0" stroke="#2a2a2a" stroke-width="0.7"/>
<rect x="546.00" y="304.0" width="2.0" height="3.4" fill="#111"/>
<line x1="549.40" y1="305.0" x2="549.40" y2="322.0" stroke="#2a2a2a" stroke-width="0.7"/>
<rect x="548.40" y="307.4" width="2.0" height="9.6" fill="#111"/>
<line x1="551.50" y1="314.0" x2="551.50" y2="340.0" stroke="#2a2a2a" stroke-width="0.7"/>
<rect x="550.50" y="316.0" width="2.0" height="19.0" fill="#111"/>
<line x1="553.60" y1="317.0" x2="553.60" y2="340.0" stroke="#808080" stroke-width="0.7"/>
<rect x="552.60" y="319.5" width="2.0" height="17.5" fill="#bcbcbc" stroke="#858585" stroke-width="0.5"/>
<line x1="555.95" y1="314.0" x2="555.95" y2="340.0" stroke="#2a2a2a" stroke-width="0.7"/>
<rect x="554.95" y="320.0" width="2.0" height="2.0" fill="#111"/>
<line x1="558.05" y1="318.0" x2="558.05" y2="336.0" stroke="#2a2a2a" stroke-width="0.7"/>
<rect x="557.05" y="321.0" width="2.0" height="11.0" fill="#111"/>
<line x1="560.95" y1="329.0" x2="560.95" y2="345.0" stroke="#2a2a2a" stroke-width="0.7"/>
<rect x="559.95" y="330.6" width="2.0" height="11.4" fill="#111"/>
<line x1="563.05" y1="333.0" x2="563.05" y2="348.0" stroke="#808080" stroke-width="0.7"/>
<rect x="562.05" y="337.0" width="2.0" height="5.0" fill="#bcbcbc" stroke="#858585" stroke-width="0.5"/>
<line x1="565.28" y1="330.0" x2="565.28" y2="341.0" stroke="#808080" stroke-width="0.7"/>
<rect x="564.28" y="333.0" width="2.0" height="6.0" fill="#bcbcbc" stroke="#858585" stroke-width="0.5"/>
<line x1="567.38" y1="325.0" x2="567.38" y2="338.0" stroke="#808080" stroke-width="0.7"/>
<rect x="566.38" y="327.0" width="2.0" height="9.0" fill="#bcbcbc" stroke="#858585" stroke-width="0.5"/>
<line x1="569.48" y1="320.0" x2="569.48" y2="330.0" stroke="#808080" stroke-width="0.7"/>
<rect x="568.48" y="322.4" width="2.0" height="5.6" fill="#bcbcbc" stroke="#858585" stroke-width="0.5"/>
<line x1="571.58" y1="317.0" x2="571.58" y2="328.0" stroke="#808080" stroke-width="0.7"/>
<rect x="570.58" y="318.7" width="2.0" height="7.3" fill="#bcbcbc" stroke="#858585" stroke-width="0.5"/>
<line x1="573.68" y1="317.0" x2="573.68" y2="327.6" stroke="#808080" stroke-width="0.7"/>
<rect x="572.68" y="318.7" width="2.0" height="1.3" fill="#bcbcbc" stroke="#858585" stroke-width="0.5"/>
<line x1="575.78" y1="309.0" x2="575.78" y2="323.0" stroke="#808080" stroke-width="0.7"/>
<rect x="574.78" y="312.0" width="2.0" height="9.0" fill="#bcbcbc" stroke="#858585" stroke-width="0.5"/>
<line x1="577.88" y1="308.0" x2="577.88" y2="317.0" stroke="#808080" stroke-width="0.7"/>
<rect x="576.88" y="309.7" width="2.0" height="5.9" fill="#bcbcbc" stroke="#858585" stroke-width="0.5"/>
<line x1="579.98" y1="304.0" x2="579.98" y2="313.0" stroke="#808080" stroke-width="0.7"/>
<rect x="578.98" y="306.0" width="2.0" height="6.0" fill="#bcbcbc" stroke="#858585" stroke-width="0.5"/>
<line x1="582.08" y1="296.0" x2="582.08" y2="309.0" stroke="#808080" stroke-width="0.7"/>
<rect x="581.08" y="297.7" width="2.0" height="9.7" fill="#bcbcbc" stroke="#858585" stroke-width="0.5"/>
<line x1="584.18" y1="297.0" x2="584.18" y2="305.0" stroke="#2a2a2a" stroke-width="0.7"/>
<rect x="583.18" y="297.7" width="2.0" height="6.0" fill="#111"/>
<line x1="586.28" y1="299.0" x2="586.28" y2="310.0" stroke="#2a2a2a" stroke-width="0.7"/>
<rect x="585.28" y="302.0" width="2.0" height="3.0" fill="#111"/>
<line x1="588.38" y1="290.0" x2="588.38" y2="306.0" stroke="#808080" stroke-width="0.7"/>
<rect x="587.38" y="292.5" width="2.0" height="11.9" fill="#bcbcbc" stroke="#858585" stroke-width="0.5"/>
<line x1="590.48" y1="286.0" x2="590.48" y2="296.0" stroke="#808080" stroke-width="0.7"/>
<rect x="589.48" y="288.0" width="2.0" height="6.7" fill="#bcbcbc" stroke="#858585" stroke-width="0.5"/>
<line x1="592.58" y1="283.5" x2="592.58" y2="291.0" stroke="#808080" stroke-width="0.7"/>
<rect x="591.58" y="284.2" width="2.0" height="5.3" fill="#bcbcbc" stroke="#858585" stroke-width="0.5"/>
<line x1="594.68" y1="282.0" x2="594.68" y2="289.0" stroke="#808080" stroke-width="0.7"/>
<rect x="593.68" y="284.0" width="2.0" height="3.0" fill="#bcbcbc" stroke="#858585" stroke-width="0.5"/>
<line x1="596.78" y1="285.0" x2="596.78" y2="301.0" stroke="#2a2a2a" stroke-width="0.7"/>
<rect x="595.78" y="286.5" width="2.0" height="12.5" fill="#111"/>
<line x1="598.88" y1="286.5" x2="598.88" y2="300.0" stroke="#808080" stroke-width="0.7"/>
<rect x="597.88" y="291.0" width="2.0" height="7.4" fill="#bcbcbc" stroke="#858585" stroke-width="0.5"/>
<line x1="600.98" y1="290.0" x2="600.98" y2="313.0" stroke="#2a2a2a" stroke-width="0.7"/>
<rect x="599.98" y="292.5" width="2.0" height="18.5" fill="#111"/>
<line x1="603.08" y1="309.0" x2="603.08" y2="335.0" stroke="#2a2a2a" stroke-width="0.7"/>
<rect x="602.08" y="310.4" width="2.0" height="11.2" fill="#111"/>
<line x1="605.45" y1="320.0" x2="605.45" y2="345.0" stroke="#2a2a2a" stroke-width="0.7"/>
<rect x="604.45" y="321.0" width="2.0" height="17.9" fill="#111"/>
<line x1="607.55" y1="335.0" x2="607.55" y2="345.0" stroke="#808080" stroke-width="0.7"/>
<rect x="606.55" y="337.0" width="2.0" height="2.0" fill="#bcbcbc" stroke="#858585" stroke-width="0.5"/>
<line x1="610.00" y1="334.0" x2="610.00" y2="353.0" stroke="#2a2a2a" stroke-width="0.7"/>
<rect x="609.00" y="335.8" width="2.0" height="9.0" fill="#111"/>
<line x1="612.50" y1="343.0" x2="612.50" y2="358.0" stroke="#2a2a2a" stroke-width="0.7"/>
<rect x="611.50" y="345.0" width="2.0" height="8.0" fill="#111"/>
<line x1="614.95" y1="328.0" x2="614.95" y2="356.0" stroke="#808080" stroke-width="0.7"/>
<rect x="613.95" y="330.0" width="2.0" height="22.0" fill="#bcbcbc" stroke="#858585" stroke-width="0.5"/>
<line x1="617.05" y1="328.4" x2="617.05" y2="349.0" stroke="#808080" stroke-width="0.7"/>
<rect x="616.05" y="333.0" width="2.0" height="7.0" fill="#bcbcbc" stroke="#858585" stroke-width="0.5"/>
<line x1="619.50" y1="330.0" x2="619.50" y2="346.0" stroke="#2a2a2a" stroke-width="0.7"/>
<rect x="618.50" y="331.4" width="2.0" height="3.0" fill="#111"/>
<line x1="621.95" y1="329.0" x2="621.95" y2="336.0" stroke="#808080" stroke-width="0.7"/>
<rect x="620.95" y="331.0" width="2.0" height="2.6" fill="#bcbcbc" stroke="#858585" stroke-width="0.5"/>
<line x1="624.05" y1="329.0" x2="624.05" y2="347.0" stroke="#2a2a2a" stroke-width="0.7"/>
<rect x="623.05" y="330.6" width="2.0" height="10.0" fill="#111"/>
<line x1="626.45" y1="322.0" x2="626.45" y2="342.0" stroke="#808080" stroke-width="0.7"/>
<rect x="625.45" y="326.0" width="2.0" height="14.6" fill="#bcbcbc" stroke="#858585" stroke-width="0.5"/>
<line x1="628.55" y1="312.5" x2="628.55" y2="330.0" stroke="#808080" stroke-width="0.7"/>
<rect x="627.55" y="319.7" width="2.0" height="8.3" fill="#bcbcbc" stroke="#858585" stroke-width="0.5"/>
<line x1="631.00" y1="308.7" x2="631.00" y2="323.0" stroke="#808080" stroke-width="0.7"/>
<rect x="630.00" y="317.0" width="2.0" height="2.0" fill="#bcbcbc" stroke="#858585" stroke-width="0.5"/>
<line x1="633.95" y1="312.0" x2="633.95" y2="322.0" stroke="#2a2a2a" stroke-width="0.7"/>
<rect x="632.95" y="316.0" width="2.0" height="3.0" fill="#111"/>
<line x1="636.05" y1="309.7" x2="636.05" y2="324.0" stroke="#808080" stroke-width="0.7"/>
<rect x="635.05" y="314.0" width="2.0" height="6.6" fill="#bcbcbc" stroke="#858585" stroke-width="0.5"/>
<line x1="638.95" y1="317.0" x2="638.95" y2="324.0" stroke="#2a2a2a" stroke-width="0.7"/>
<rect x="637.95" y="318.8" width="2.0" height="3.7" fill="#111"/>
<line x1="641.05" y1="320.0" x2="641.05" y2="339.0" stroke="#2a2a2a" stroke-width="0.7"/>
<rect x="640.05" y="321.6" width="2.0" height="14.4" fill="#111"/>
<line x1="643.50" y1="327.0" x2="643.50" y2="338.0" stroke="#808080" stroke-width="0.7"/>
<rect x="642.50" y="329.7" width="2.0" height="6.1" fill="#bcbcbc" stroke="#858585" stroke-width="0.5"/>
<line x1="645.95" y1="321.0" x2="645.95" y2="335.0" stroke="#808080" stroke-width="0.7"/>
<rect x="644.95" y="323.4" width="2.0" height="8.1" fill="#bcbcbc" stroke="#858585" stroke-width="0.5"/>
<line x1="648.05" y1="320.0" x2="648.05" y2="326.0" stroke="#808080" stroke-width="0.7"/>
<rect x="647.05" y="322.5" width="2.0" height="2.2" fill="#bcbcbc" stroke="#858585" stroke-width="0.5"/>
<line x1="650.50" y1="318.0" x2="650.50" y2="326.0" stroke="#2a2a2a" stroke-width="0.7"/>
<rect x="649.50" y="322.5" width="2.0" height="1.8" fill="#111"/>
<line x1="653.00" y1="309.7" x2="653.00" y2="325.0" stroke="#808080" stroke-width="0.7"/>
<rect x="652.00" y="312.5" width="2.0" height="11.5" fill="#bcbcbc" stroke="#858585" stroke-width="0.5"/>
<line x1="655.50" y1="305.0" x2="655.50" y2="318.8" stroke="#808080" stroke-width="0.7"/>
<rect x="654.50" y="308.0" width="2.0" height="9.0" fill="#bcbcbc" stroke="#858585" stroke-width="0.5"/>
<line x1="658.00" y1="286.0" x2="658.00" y2="325.0" stroke="#808080" stroke-width="0.7"/>
<rect x="657.00" y="289.0" width="2.0" height="19.0" fill="#bcbcbc" stroke="#858585" stroke-width="0.5"/>
<line x1="660.50" y1="260.0" x2="660.50" y2="291.0" stroke="#808080" stroke-width="0.7"/>
<rect x="659.50" y="268.0" width="2.0" height="22.0" fill="#bcbcbc" stroke="#858585" stroke-width="0.5"/>
<line x1="663.50" y1="262.0" x2="663.50" y2="315.0" stroke="#2a2a2a" stroke-width="0.7"/>
<rect x="662.50" y="268.0" width="2.0" height="32.7" fill="#111"/>
<line x1="666.00" y1="299.0" x2="666.00" y2="316.0" stroke="#2a2a2a" stroke-width="0.7"/>
<rect x="665.00" y="300.7" width="2.0" height="10.9" fill="#111"/>
<line x1="668.40" y1="299.0" x2="668.40" y2="322.0" stroke="#808080" stroke-width="0.7"/>
<rect x="667.40" y="311.6" width="2.0" height="8.4" fill="#bcbcbc" stroke="#858585" stroke-width="0.5"/>
<line x1="670.50" y1="299.0" x2="670.50" y2="325.0" stroke="#2a2a2a" stroke-width="0.7"/>
<rect x="669.50" y="311.6" width="2.0" height="8.1" fill="#111"/>
<line x1="672.60" y1="300.0" x2="672.60" y2="326.0" stroke="#808080" stroke-width="0.7"/>
<rect x="671.60" y="312.0" width="2.0" height="10.5" fill="#bcbcbc" stroke="#858585" stroke-width="0.5"/>
<line x1="675.00" y1="310.0" x2="675.00" y2="334.0" stroke="#2a2a2a" stroke-width="0.7"/>
<rect x="674.00" y="312.5" width="2.0" height="19.0" fill="#111"/>
<line x1="677.45" y1="330.0" x2="677.45" y2="360.0" stroke="#2a2a2a" stroke-width="0.7"/>
<rect x="676.45" y="331.5" width="2.0" height="27.2" fill="#111"/>
<line x1="679.55" y1="348.0" x2="679.55" y2="361.0" stroke="#808080" stroke-width="0.7"/>
<rect x="678.55" y="350.5" width="2.0" height="7.5" fill="#bcbcbc" stroke="#858585" stroke-width="0.5"/>
<line x1="681.95" y1="343.0" x2="681.95" y2="360.0" stroke="#808080" stroke-width="0.7"/>
<rect x="680.95" y="346.0" width="2.0" height="7.0" fill="#bcbcbc" stroke="#858585" stroke-width="0.5"/>
<line x1="684.05" y1="338.0" x2="684.05" y2="350.0" stroke="#808080" stroke-width="0.7"/>
<rect x="683.05" y="340.6" width="2.0" height="7.4" fill="#bcbcbc" stroke="#858585" stroke-width="0.5"/>
<line x1="686.50" y1="332.5" x2="686.50" y2="342.0" stroke="#808080" stroke-width="0.7"/>
<rect x="685.50" y="335.0" width="2.0" height="4.0" fill="#bcbcbc" stroke="#858585" stroke-width="0.5"/>
<line x1="688.95" y1="334.0" x2="688.95" y2="342.0" stroke="#2a2a2a" stroke-width="0.7"/>
<rect x="687.95" y="337.0" width="2.0" height="3.6" fill="#111"/>
<line x1="691.05" y1="332.0" x2="691.05" y2="342.0" stroke="#808080" stroke-width="0.7"/>
<rect x="690.05" y="334.7" width="2.0" height="5.3" fill="#bcbcbc" stroke="#858585" stroke-width="0.5"/>
<line x1="693.50" y1="332.0" x2="693.50" y2="340.0" stroke="#2a2a2a" stroke-width="0.7"/>
<rect x="692.50" y="334.7" width="2.0" height="1.3" fill="#111"/>
<line x1="696.00" y1="334.0" x2="696.00" y2="347.0" stroke="#2a2a2a" stroke-width="0.7"/>
<rect x="695.00" y="336.2" width="2.0" height="8.8" fill="#111"/>
<line x1="699.00" y1="344.0" x2="699.00" y2="350.0" stroke="#2a2a2a" stroke-width="0.7"/>
<rect x="698.00" y="345.4" width="2.0" height="2.1" fill="#111"/>
<line x1="701.45" y1="346.0" x2="701.45" y2="355.0" stroke="#2a2a2a" stroke-width="0.7"/>
<rect x="700.45" y="347.5" width="2.0" height="5.1" fill="#111"/>
<line x1="703.55" y1="345.0" x2="703.55" y2="355.7" stroke="#808080" stroke-width="0.7"/>
<rect x="702.55" y="347.0" width="2.0" height="6.6" fill="#bcbcbc" stroke="#858585" stroke-width="0.5"/>
<line x1="706.45" y1="345.0" x2="706.45" y2="357.0" stroke="#2a2a2a" stroke-width="0.7"/>
<rect x="705.45" y="347.5" width="2.0" height="7.5" fill="#111"/>
<line x1="708.55" y1="348.0" x2="708.55" y2="356.0" stroke="#808080" stroke-width="0.7"/>
<rect x="707.55" y="349.0" width="2.0" height="5.0" fill="#bcbcbc" stroke="#858585" stroke-width="0.5"/>
<line x1="711.00" y1="345.4" x2="711.00" y2="352.0" stroke="#2a2a2a" stroke-width="0.7"/>
<rect x="710.00" y="348.5" width="2.0" height="2.0" fill="#111"/>
<line x1="713.95" y1="348.0" x2="713.95" y2="354.0" stroke="#808080" stroke-width="0.7"/>
<rect x="712.95" y="349.5" width="2.0" height="2.5" fill="#bcbcbc" stroke="#858585" stroke-width="0.5"/>
<line x1="716.05" y1="347.0" x2="716.05" y2="352.0" stroke="#2a2a2a" stroke-width="0.7"/>
<rect x="715.05" y="349.0" width="2.0" height="1.5" fill="#111"/>
<line x1="719.00" y1="340.0" x2="719.00" y2="352.0" stroke="#808080" stroke-width="0.7"/>
<rect x="718.00" y="344.0" width="2.0" height="4.0" fill="#bcbcbc" stroke="#858585" stroke-width="0.5"/>
<line x1="721.50" y1="342.0" x2="721.50" y2="352.0" stroke="#2a2a2a" stroke-width="0.7"/>
<rect x="720.50" y="345.9" width="2.0" height="4.1" fill="#111"/>
<line x1="724.00" y1="348.0" x2="724.00" y2="358.0" stroke="#2a2a2a" stroke-width="0.7"/>
<rect x="723.00" y="349.0" width="2.0" height="7.2" fill="#111"/>
<line x1="726.40" y1="347.0" x2="726.40" y2="357.0" stroke="#808080" stroke-width="0.7"/>
<rect x="725.40" y="349.0" width="2.0" height="6.0" fill="#bcbcbc" stroke="#858585" stroke-width="0.5"/>
<line x1="728.50" y1="342.0" x2="728.50" y2="349.0" stroke="#808080" stroke-width="0.7"/>
<rect x="727.50" y="343.4" width="2.0" height="3.6" fill="#bcbcbc" stroke="#858585" stroke-width="0.5"/>
<line x1="730.60" y1="339.0" x2="730.60" y2="346.0" stroke="#808080" stroke-width="0.7"/>
<rect x="729.60" y="341.3" width="2.0" height="3.1" fill="#bcbcbc" stroke="#858585" stroke-width="0.5"/>
<line x1="732.95" y1="336.0" x2="732.95" y2="344.0" stroke="#808080" stroke-width="0.7"/>
<rect x="731.95" y="340.0" width="2.0" height="2.0" fill="#bcbcbc" stroke="#858585" stroke-width="0.5"/>
<line x1="735.05" y1="334.7" x2="735.05" y2="342.0" stroke="#808080" stroke-width="0.7"/>
<rect x="734.05" y="337.7" width="2.0" height="3.1" fill="#bcbcbc" stroke="#858585" stroke-width="0.5"/>
<line x1="737.45" y1="336.0" x2="737.45" y2="344.0" stroke="#2a2a2a" stroke-width="0.7"/>
<rect x="736.45" y="338.8" width="2.0" height="3.0" fill="#111"/>
<line x1="739.55" y1="337.0" x2="739.55" y2="344.0" stroke="#808080" stroke-width="0.7"/>
<rect x="738.55" y="339.0" width="2.0" height="3.0" fill="#bcbcbc" stroke="#858585" stroke-width="0.5"/>
<line x1="741.95" y1="337.0" x2="741.95" y2="344.0" stroke="#2a2a2a" stroke-width="0.7"/>
<rect x="740.95" y="339.8" width="2.0" height="1.5" fill="#111"/>
<line x1="744.05" y1="337.0" x2="744.05" y2="345.0" stroke="#808080" stroke-width="0.7"/>
<rect x="743.05" y="339.0" width="2.0" height="3.0" fill="#bcbcbc" stroke="#858585" stroke-width="0.5"/>
<line x1="746.45" y1="332.0" x2="746.45" y2="344.0" stroke="#808080" stroke-width="0.7"/>
<rect x="745.45" y="336.7" width="2.0" height="5.1" fill="#bcbcbc" stroke="#858585" stroke-width="0.5"/>
<line x1="748.55" y1="332.0" x2="748.55" y2="342.0" stroke="#808080" stroke-width="0.7"/>
<rect x="747.55" y="334.2" width="2.0" height="5.6" fill="#bcbcbc" stroke="#858585" stroke-width="0.5"/>
<line x1="750.85" y1="329.0" x2="750.85" y2="337.0" stroke="#2a2a2a" stroke-width="0.7"/>
<rect x="749.85" y="330.0" width="2.0" height="5.7" fill="#111"/>
<line x1="752.95" y1="321.0" x2="752.95" y2="337.0" stroke="#808080" stroke-width="0.7"/>
<rect x="751.95" y="328.5" width="2.0" height="7.2" fill="#bcbcbc" stroke="#858585" stroke-width="0.5"/>
<line x1="755.05" y1="321.0" x2="755.05" y2="331.0" stroke="#808080" stroke-width="0.7"/>
<rect x="754.05" y="322.4" width="2.0" height="7.6" fill="#bcbcbc" stroke="#858585" stroke-width="0.5"/>
<line x1="757.15" y1="320.0" x2="757.15" y2="327.0" stroke="#2a2a2a" stroke-width="0.7"/>
<rect x="756.15" y="322.4" width="2.0" height="3.6" fill="#111"/>
<line x1="759.50" y1="322.0" x2="759.50" y2="331.0" stroke="#2a2a2a" stroke-width="0.7"/>
<rect x="758.50" y="323.7" width="2.0" height="5.3" fill="#111"/>
<line x1="762.00" y1="327.0" x2="762.00" y2="333.0" stroke="#2a2a2a" stroke-width="0.7"/>
<rect x="761.00" y="329.0" width="2.0" height="1.0" fill="#111"/>
<line x1="764.50" y1="326.0" x2="764.50" y2="331.0" stroke="#2a2a2a" stroke-width="0.7"/>
<rect x="763.50" y="328.0" width="2.0" height="1.0" fill="#111"/>
<line x1="767.00" y1="322.4" x2="767.00" y2="330.0" stroke="#2a2a2a" stroke-width="0.7"/>
<rect x="766.00" y="327.0" width="2.0" height="1.0" fill="#111"/>
<line x1="769.50" y1="326.0" x2="769.50" y2="334.0" stroke="#2a2a2a" stroke-width="0.7"/>
<rect x="768.50" y="327.8" width="2.0" height="4.0" fill="#111"/>
<line x1="772.00" y1="329.0" x2="772.00" y2="337.0" stroke="#2a2a2a" stroke-width="0.7"/>
<rect x="771.00" y="331.0" width="2.0" height="4.0" fill="#111"/>
<line x1="774.50" y1="330.0" x2="774.50" y2="342.0" stroke="#2a2a2a" stroke-width="0.7"/>
<rect x="773.50" y="335.0" width="2.0" height="5.0" fill="#111"/>
<line x1="777.00" y1="337.0" x2="777.00" y2="343.0" stroke="#808080" stroke-width="0.7"/>
<rect x="776.00" y="339.0" width="2.0" height="2.0" fill="#bcbcbc" stroke="#858585" stroke-width="0.5"/>
<line x1="779.50" y1="339.0" x2="779.50" y2="358.0" stroke="#2a2a2a" stroke-width="0.7"/>
<rect x="778.50" y="340.0" width="2.0" height="15.0" fill="#111"/>
<line x1="782.00" y1="348.0" x2="782.00" y2="358.0" stroke="#808080" stroke-width="0.7"/>
<rect x="781.00" y="350.0" width="2.0" height="4.0" fill="#bcbcbc" stroke="#858585" stroke-width="0.5"/>
<line x1="784.50" y1="338.0" x2="784.50" y2="352.0" stroke="#808080" stroke-width="0.7"/>
<rect x="783.50" y="341.0" width="2.0" height="9.5" fill="#bcbcbc" stroke="#858585" stroke-width="0.5"/>
<line x1="787.00" y1="338.0" x2="787.00" y2="343.0" stroke="#808080" stroke-width="0.7"/>
<rect x="786.00" y="340.0" width="2.0" height="1.0" fill="#bcbcbc" stroke="#858585" stroke-width="0.5"/>
<line x1="789.50" y1="337.0" x2="789.50" y2="345.0" stroke="#808080" stroke-width="0.7"/>
<rect x="788.50" y="340.0" width="2.0" height="2.0" fill="#bcbcbc" stroke="#858585" stroke-width="0.5"/>
<line x1="792.00" y1="339.0" x2="792.00" y2="355.0" stroke="#2a2a2a" stroke-width="0.7"/>
<rect x="791.00" y="341.0" width="2.0" height="7.0" fill="#111"/>
<line x1="794.45" y1="344.0" x2="794.45" y2="355.0" stroke="#808080" stroke-width="0.7"/>
<rect x="793.45" y="346.0" width="2.0" height="3.0" fill="#bcbcbc" stroke="#858585" stroke-width="0.5"/>
<line x1="796.55" y1="335.0" x2="796.55" y2="352.0" stroke="#808080" stroke-width="0.7"/>
<rect x="795.55" y="344.5" width="2.0" height="6.5" fill="#bcbcbc" stroke="#858585" stroke-width="0.5"/>
<line x1="799.50" y1="342.0" x2="799.50" y2="373.0" stroke="#2a2a2a" stroke-width="0.7"/>
<rect x="798.50" y="344.5" width="2.0" height="26.5" fill="#111"/>
<line x1="802.00" y1="355.0" x2="802.00" y2="377.0" stroke="#808080" stroke-width="0.7"/>
<rect x="801.00" y="357.0" width="2.0" height="14.0" fill="#bcbcbc" stroke="#858585" stroke-width="0.5"/>
<line x1="804.50" y1="337.0" x2="804.50" y2="358.0" stroke="#808080" stroke-width="0.7"/>
<rect x="803.50" y="341.0" width="2.0" height="16.0" fill="#bcbcbc" stroke="#858585" stroke-width="0.5"/>
<line x1="807.00" y1="328.5" x2="807.00" y2="352.0" stroke="#808080" stroke-width="0.7"/>
<rect x="806.00" y="336.0" width="2.0" height="14.0" fill="#bcbcbc" stroke="#858585" stroke-width="0.5"/>
<line x1="809.50" y1="333.0" x2="809.50" y2="364.0" stroke="#2a2a2a" stroke-width="0.7"/>
<rect x="808.50" y="335.0" width="2.0" height="27.0" fill="#111"/>
<line x1="812.00" y1="349.0" x2="812.00" y2="363.0" stroke="#808080" stroke-width="0.7"/>
<rect x="811.00" y="351.0" width="2.0" height="10.0" fill="#bcbcbc" stroke="#858585" stroke-width="0.5"/>
<line x1="814.50" y1="330.0" x2="814.50" y2="352.0" stroke="#808080" stroke-width="0.7"/>
<rect x="813.50" y="333.8" width="2.0" height="16.7" fill="#bcbcbc" stroke="#858585" stroke-width="0.5"/>
<line x1="817.00" y1="321.0" x2="817.00" y2="337.0" stroke="#808080" stroke-width="0.7"/>
<rect x="816.00" y="328.6" width="2.0" height="5.4" fill="#bcbcbc" stroke="#858585" stroke-width="0.5"/>
<line x1="819.50" y1="314.4" x2="819.50" y2="335.0" stroke="#808080" stroke-width="0.7"/>
<rect x="818.50" y="327.0" width="2.0" height="4.7" fill="#bcbcbc" stroke="#858585" stroke-width="0.5"/>
<line x1="822.00" y1="321.0" x2="822.00" y2="332.0" stroke="#808080" stroke-width="0.7"/>
<rect x="821.00" y="324.6" width="2.0" height="3.2" fill="#bcbcbc" stroke="#858585" stroke-width="0.5"/>
<line x1="824.50" y1="316.0" x2="824.50" y2="327.0" stroke="#808080" stroke-width="0.7"/>
<rect x="823.50" y="320.0" width="2.0" height="5.4" fill="#bcbcbc" stroke="#858585" stroke-width="0.5"/>
<line x1="827.00" y1="308.5" x2="827.00" y2="322.0" stroke="#808080" stroke-width="0.7"/>
<rect x="826.00" y="313.6" width="2.0" height="7.1" fill="#bcbcbc" stroke="#858585" stroke-width="0.5"/>
<line x1="829.50" y1="308.0" x2="829.50" y2="318.0" stroke="#2a2a2a" stroke-width="0.7"/>
<rect x="828.50" y="314.0" width="2.0" height="1.2" fill="#111"/>
<line x1="832.00" y1="308.0" x2="832.00" y2="319.0" stroke="#808080" stroke-width="0.7"/>
<rect x="831.00" y="313.6" width="2.0" height="2.4" fill="#bcbcbc" stroke="#858585" stroke-width="0.5"/>
<line x1="834.50" y1="309.0" x2="834.50" y2="317.0" stroke="#2a2a2a" stroke-width="0.7"/>
<rect x="833.50" y="313.0" width="2.0" height="2.0" fill="#111"/>
<line x1="837.00" y1="312.0" x2="837.00" y2="325.0" stroke="#2a2a2a" stroke-width="0.7"/>
<rect x="836.00" y="314.8" width="2.0" height="6.7" fill="#111"/>
<line x1="839.50" y1="300.0" x2="839.50" y2="322.0" stroke="#808080" stroke-width="0.7"/>
<rect x="838.50" y="301.0" width="2.0" height="19.7" fill="#bcbcbc" stroke="#858585" stroke-width="0.5"/>
<line x1="842.00" y1="300.0" x2="842.00" y2="325.0" stroke="#2a2a2a" stroke-width="0.7"/>
<rect x="841.00" y="301.0" width="2.0" height="22.0" fill="#111"/>
<line x1="844.50" y1="318.0" x2="844.50" y2="332.0" stroke="#2a2a2a" stroke-width="0.7"/>
<rect x="843.50" y="323.0" width="2.0" height="1.6" fill="#111"/>
<line x1="847.00" y1="316.0" x2="847.00" y2="331.0" stroke="#808080" stroke-width="0.7"/>
<rect x="846.00" y="321.5" width="2.0" height="2.5" fill="#bcbcbc" stroke="#858585" stroke-width="0.5"/>
<line x1="849.50" y1="316.0" x2="849.50" y2="331.0" stroke="#808080" stroke-width="0.7"/>
<rect x="848.50" y="318.7" width="2.0" height="3.3" fill="#bcbcbc" stroke="#858585" stroke-width="0.5"/>
<line x1="852.00" y1="314.0" x2="852.00" y2="331.0" stroke="#808080" stroke-width="0.7"/>
<rect x="851.00" y="317.2" width="2.0" height="3.5" fill="#bcbcbc" stroke="#858585" stroke-width="0.5"/>
<line x1="854.50" y1="314.0" x2="854.50" y2="322.0" stroke="#2a2a2a" stroke-width="0.7"/>
<rect x="853.50" y="316.8" width="2.0" height="3.9" fill="#111"/>
<line x1="857.00" y1="319.0" x2="857.00" y2="324.0" stroke="#2a2a2a" stroke-width="0.7"/>
<rect x="856.00" y="320.0" width="2.0" height="1.5" fill="#111"/>
<line x1="859.50" y1="320.0" x2="859.50" y2="325.0" stroke="#2a2a2a" stroke-width="0.7"/>
<rect x="858.50" y="321.0" width="2.0" height="1.0" fill="#111"/>
<line x1="862.00" y1="319.0" x2="862.00" y2="323.0" stroke="#808080" stroke-width="0.7"/>
<rect x="861.00" y="320.2" width="2.0" height="1.0" fill="#bcbcbc" stroke="#858585" stroke-width="0.5"/>
<line x1="864.50" y1="319.0" x2="864.50" y2="322.0" stroke="#808080" stroke-width="0.7"/>
<rect x="863.50" y="320.0" width="2.0" height="1.0" fill="#bcbcbc" stroke="#858585" stroke-width="0.5"/>
<line x1="440" y1="207.3" x2="900.7" y2="313.8" stroke="#4862b8" stroke-width="1.3"/>
<polyline points="661.4,260.3 724.4,358 755,322.7 803.3,379.7 841.4,300.6 872.7,339 928.5,237" fill="none" stroke="#2a8770" stroke-width="1.15" stroke-linejoin="miter"/>
<polyline points="920.6,239.3 928.5,237 931,244.8" fill="none" stroke="#2a8770" stroke-width="1.15"/>
<circle cx="183" cy="121.5" r="5.8" fill="#e47d96" fill-opacity="0.62"/>
<circle cx="394.4" cy="457.6" r="5.6" fill="#ef94aa"/>
<text x="1059" y="150.8" font-size="8.2" fill="#1a1a1a">H4 看跌ob</text>
<text x="969" y="368.8" font-size="8.5" fill="#1a1a1a">ob</text>
<text x="636.7" y="284.3" font-size="6.4" fill="#1a1a1a">eqh</text>
<text x="593.6" y="349.5" font-size="6.4" fill="#1a1a1a">eql</text>
<text x="861" y="302" font-size="6.4" fill="#1a1a1a">eqh</text>
<text x="801.5" y="324.2" font-size="6.4" fill="#1a1a1a">msb</text>
<text x="788.5" y="361.5" font-size="5" fill="#e48a9c">eql</text>
<text x="803" y="397" font-size="6.4" fill="#1a1a1a">ob</text>
<text x="5.8" y="11.3" font-size="7" fill="#333" textLength="211" lengthAdjust="spacingAndGlyphs">PATrader_Buer发表于TradingView.com，2月 11, 2025 08:03 UTC+8</text>
<text x="10" y="27" font-size="6.8" fill="#333" style="white-space:pre" textLength="346" lengthAdjust="spacingAndGlyphs">Bitcoin / TetherUS, 1小时, BINANCE  开=97,430.82  高=97,471.50  低=97,416.62  收=97,438.35  +7.53 (+0.01%)</text>
<text x="10" y="36.3" font-size="6.6" fill="#333" textLength="186" lengthAdjust="spacingAndGlyphs">RP Sessions (1300-2100, 0800-1700, 0000-0900, Normal)</text>
<text x="1153.7" y="27" font-size="7" fill="#333">USDT</text>
<defs><clipPath id="ax"><rect x="1140" y="30" width="60" height="569.3"/></clipPath></defs>
<g clip-path="url(#ax)">
<text x="1152" y="40.6" font-size="7.4" fill="#333">110,000.00</text>
<text x="1152" y="63.0" font-size="7.4" fill="#333">109,000.00</text>
<text x="1152" y="85.4" font-size="7.4" fill="#333">108,000.00</text>
<text x="1152" y="107.7" font-size="7.4" fill="#333">107,000.00</text>
<text x="1152" y="130.1" font-size="7.4" fill="#333">106,000.00</text>
<text x="1152" y="152.5" font-size="7.4" fill="#333">105,000.00</text>
<text x="1152" y="174.9" font-size="7.4" fill="#333">104,000.00</text>
<text x="1152" y="197.3" font-size="7.4" fill="#333">103,000.00</text>
<text x="1152" y="219.6" font-size="7.4" fill="#333">102,000.00</text>
<text x="1152" y="242.0" font-size="7.4" fill="#333">101,000.00</text>
<text x="1152" y="264.4" font-size="7.4" fill="#333">100,000.00</text>
<text x="1152" y="286.8" font-size="7.4" fill="#333">99,000.00</text>
<text x="1152" y="309.2" font-size="7.4" fill="#333">98,000.00</text>
<text x="1152" y="353.9" font-size="7.4" fill="#333">96,000.00</text>
<text x="1152" y="376.3" font-size="7.4" fill="#333">95,000.00</text>
<text x="1152" y="398.7" font-size="7.4" fill="#333">94,000.00</text>
<text x="1152" y="421.1" font-size="7.4" fill="#333">93,000.00</text>
<text x="1152" y="443.4" font-size="7.4" fill="#333">92,000.00</text>
<text x="1152" y="465.8" font-size="7.4" fill="#333">91,000.00</text>
<text x="1152" y="488.2" font-size="7.4" fill="#333">90,000.00</text>
<text x="1152" y="510.6" font-size="7.4" fill="#333">89,000.00</text>
<text x="1152" y="533.0" font-size="7.4" fill="#333">88,000.00</text>
<text x="1152" y="555.3" font-size="7.4" fill="#333">87,000.00</text>
<text x="1152" y="577.7" font-size="7.4" fill="#333">86,000.00</text>
<text x="1152" y="600.1" font-size="7.4" fill="#333">85,000.00</text>
</g>
<text x="1152" y="322" font-size="7.3" fill="#333">97,438.35</text>
<text x="1152" y="329.4" font-size="7" fill="#666">56:09</text>
<text x="62" y="610" font-size="7.3" fill="#333" text-anchor="middle">29</text>
<text x="122.5" y="610" font-size="7.3" fill="#333" text-anchor="middle">30</text>
<text x="182.5" y="610" font-size="7.3" fill="#333" text-anchor="middle">31</text>
<text x="243" y="610" font-size="7.3" fill="#333" text-anchor="middle" font-weight="bold">2月</text>
<text x="303.5" y="610" font-size="7.3" fill="#333" text-anchor="middle">2</text>
<text x="364" y="610" font-size="7.3" fill="#333" text-anchor="middle">3</text>
<text x="425" y="610" font-size="7.3" fill="#333" text-anchor="middle">4</text>
<text x="485" y="610" font-size="7.3" fill="#333" text-anchor="middle">5</text>
<text x="545.5" y="610" font-size="7.3" fill="#333" text-anchor="middle">6</text>
<text x="606" y="610" font-size="7.3" fill="#333" text-anchor="middle">7</text>
<text x="666.5" y="610" font-size="7.3" fill="#333" text-anchor="middle">8</text>
<text x="727" y="610" font-size="7.3" fill="#333" text-anchor="middle">9</text>
<text x="787.5" y="610" font-size="7.3" fill="#333" text-anchor="middle">10</text>
<text x="848" y="610" font-size="7.3" fill="#333" text-anchor="middle">11</text>
<text x="908.5" y="610" font-size="7.3" fill="#333" text-anchor="middle">12</text>
<text x="969" y="610" font-size="7.3" fill="#333" text-anchor="middle">13</text>
<text x="1029" y="610" font-size="7.3" fill="#333" text-anchor="middle">14</text>
<text x="1089.5" y="610" font-size="7.3" fill="#333" text-anchor="middle">15</text>
<circle cx="867.9" cy="591.8" r="5.7" fill="none" stroke="#6e5878" stroke-width="1"/>
<path d="M869.7,588.4 L866.9,592.1 L868.9,592.1 L866.1,595.4" fill="none" stroke="#6a5672" stroke-width="1.05" stroke-linejoin="miter"/>
<g fill="#111"><path d="M5.4,621.6 H9.7 V626.8 H7.5 V623.5 H5.4 Z"/><circle cx="11.7" cy="622.8" r="0.95"/><path d="M13.5,621.6 H16.2 L14.2,626.8 H11.6 Z"/></g>
<text x="19.7" y="627.6" font-size="7.4" fill="#1a1a1a" stroke="#1a1a1a" stroke-width="0.15" textLength="40.1" lengthAdjust="spacingAndGlyphs">TradingView</text>
</svg></body></html>
